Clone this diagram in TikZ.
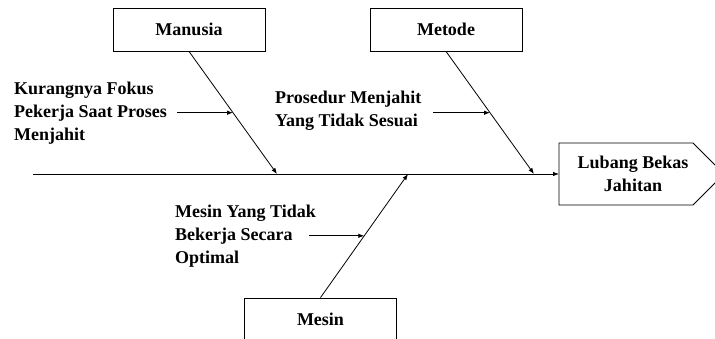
\documentclass[tikz,border=0pt]{standalone}
\usepackage{fontspec}
\setmainfont{Liberation Serif}
\usetikzlibrary{arrows.meta,calc}
\begin{document}
\begin{tikzpicture}[x=1pt,y=-1pt,
  every node/.style={font=\fontsize{18}{23}\selectfont\bfseries},
  catbox/.style={draw, line width=0.8pt, minimum width=152pt, minimum height=43pt, inner sep=0pt},
  bone/.style={line width=0.8pt, -{Latex[length=6pt,width=4.5pt]}},
  cause/.style={align=left, inner sep=0pt, anchor=north west},
]
\useasboundingbox (0,0) rectangle (715,338);
\clip (0,0) rectangle (715,338);
% category boxes
\node[catbox] (man) at (189,29.5) {Manusia};
\node[catbox] (met) at (446,29.5) {Metode};
\node[catbox] (mes) at (320.5,319.5) {Mesin};
% effect head
\draw[line width=0.8pt] (559,143) -- (693,143) -- (724,174) -- (693,205) -- (559,205) -- cycle;
\node[align=center, inner sep=0pt] (lub) at (633,174) {Lubang Bekas\\Jahitan};
% spine
\coordinate (tail) at (33,174);
\coordinate (head) at (559,174);
\coordinate (s1) at (277,174);
\coordinate (s2) at (534,174);
\coordinate (s3) at (408,174);
\draw[bone] (tail) -- (head);
\draw[bone] (man.south) -- (s1);
\draw[bone] (met.south) -- (s2);
\draw[bone] (mes.north) -- (s3);
% cause points on bones
\path (man.south) -- (s1) coordinate[pos=0.5] (m1);
\path (met.south) -- (s2) coordinate[pos=0.5] (m2);
\path (mes.north) -- (s3) coordinate[pos=0.5] (m3);
\coordinate (k1) at (177,0);
\coordinate (k2) at (433,0);
\coordinate (k3) at (309,0);
\draw[bone] (k1 |- m1) -- (m1);
\draw[bone] (k2 |- m2) -- (m2);
\draw[bone] (k3 |- m3) -- (m3);
% cause texts
\node[cause] (c1) at (14,82) {Kurangnya Fokus\\Pekerja Saat Proses\\Menjahit};
\node[cause] (c2) at (275,91) {Prosedur Menjahit\\Yang Tidak Sesuai};
\node[cause] (c3) at (175,205) {Mesin Yang Tidak\\Bekerja Secara\\Optimal};
\end{tikzpicture}
\end{document}
